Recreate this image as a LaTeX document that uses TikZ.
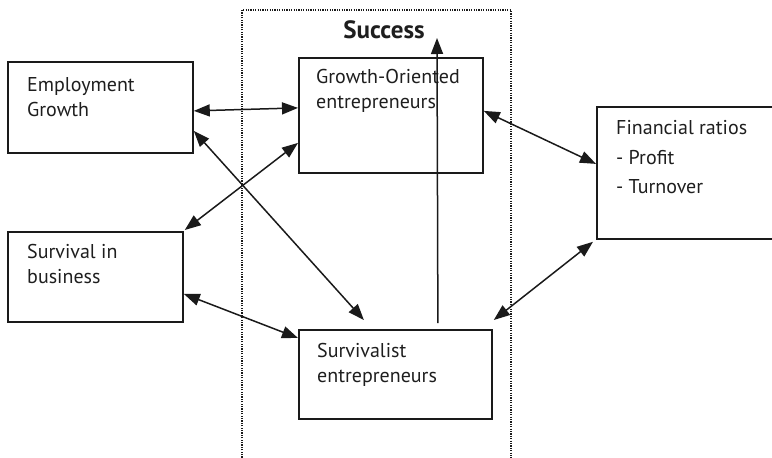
\documentclass[tikz,border=0pt]{standalone}
\usepackage{fontspec}
\setmainfont{PT Sans}
\usetikzlibrary{arrows.meta}
\definecolor{ink}{HTML}{1A1A1A}
\definecolor{txt}{HTML}{1E1E1E}
\tikzset{
  box/.style={draw=ink, line width=1.8pt, anchor=north west, inner sep=0pt, rectangle},
  boxtext/.style={anchor=base west, inner sep=0pt, text=txt, font=\fontsize{20}{25}\selectfont, align=left},
  tip/.style={Triangle[length=16pt,width=12pt]},
  link/.style={draw=ink, line width=1.5pt, {Triangle[length=16pt,width=12pt]}-{Triangle[length=16pt,width=12pt]}},
  oneway/.style={draw=ink, line width=1.5pt, -{Triangle[length=16pt,width=12pt]}},
  frame/.style={draw=ink, line width=1.2pt, dash pattern=on 1.2pt off 1.2pt},
}
\begin{document}
\begin{tikzpicture}[x=1pt, y=-1pt]
\useasboundingbox (0,0) rectangle (772,458);

% dotted frame of the "Success" area, open at the bottom
\draw[frame] (242,460) -- (242,10) -- (511,10) -- (511,460);
\node[anchor=base, inner sep=0pt, text=txt, font=\bfseries\fontsize{25}{30}\selectfont] (success) at (384,38) {Success};

% boxes
\node[box, minimum width=185pt, minimum height=91pt] (emp) at (7,61) {};
\node[box, minimum width=175pt, minimum height=90pt] (surv) at (7,231) {};
\node[box, minimum width=184pt, minimum height=115pt] (grow) at (298,57) {};
\node[box, minimum width=176pt, minimum height=132pt] (fin) at (596,106) {};
\node[box, minimum width=193pt, minimum height=89pt] (survl) at (298,329) {};

% box texts (placed by the baseline of their last line)
\node[boxtext] (empT) at (27,116) {Employment\\Growth};
\node[boxtext] (survT) at (27,283) {Survival in\\business};
\node[boxtext] (growT) at (316,108) {Growth-Oriented\\entrepreneurs};
\node[boxtext, font=\fontsize{20}{29.5}\selectfont] (finT) at (616,193.5) {Financial ratios\\- Profit\\- Turnover};
\node[boxtext] (survlT) at (317,382) {Survivalist\\entrepreneurs};

% connectors
\draw[link] ([yshift=-3.5pt]emp.east) -- ([yshift=7.5pt]grow.west);
\draw[link] ([yshift=-27.5pt]grow.west) -- ([xshift=1pt,yshift=1pt]surv.north east);
\draw[link] ([yshift=-23.5pt]emp.east) -- ([xshift=-31.5pt,yshift=9pt]survl.north);
\draw[link] ([yshift=-17pt]surv.east) -- ([yshift=-9pt]survl.north west);
\draw[link] ([yshift=4.5pt]grow.east) -- ([yshift=9pt]fin.west);
\draw[link] ([xshift=-3pt,yshift=-2pt]fin.south west) -- ([xshift=1pt,yshift=9pt]survl.north east);
\coordinate (peak) at (437,38);
\draw[oneway] ([xshift=42.5pt,yshift=6pt]survl.north) -- (peak);
\end{tikzpicture}
\end{document}
